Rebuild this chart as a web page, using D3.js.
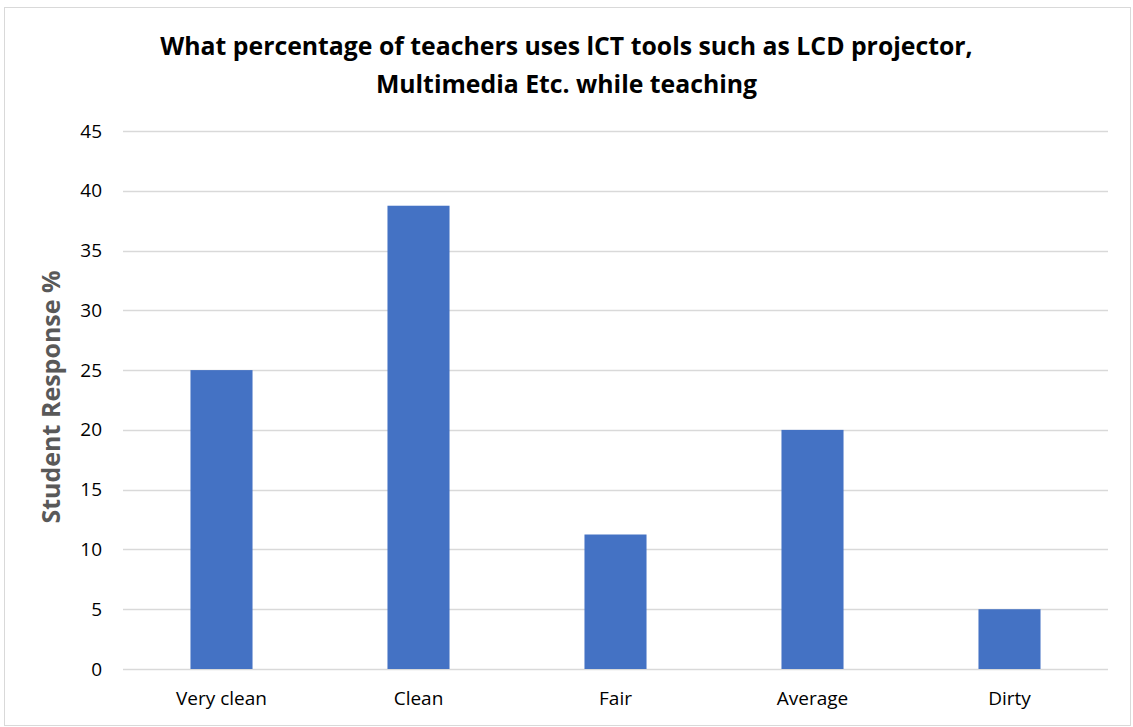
<!DOCTYPE html>
<html>
<head>
<meta charset="utf-8">
<script src="https://cdn.jsdelivr.net/npm/d3@7"></script>
<style>
  html, body { margin: 0; padding: 0; background: #fff; }
  svg { display: block; font-family: "Open Sans", Lato, sans-serif; }
</style>
</head>
<body>
<div id="chart"></div>
<script>
// Chart data
const categories = ["Very clean", "Clean", "Fair", "Average", "Dirty"];
const responses = [25, 38.75, 11.25, 20, 5];
const yTicks = [0, 5, 10, 15, 20, 25, 30, 35, 40, 45];
const titleLines = [
  "What percentage of teachers uses lCT tools such as LCD projector,",
  "Multimedia Etc. while teaching"
];
const yTitle = "Student Response %";

const width = 1133;
const height = 727;
const margin = { top: 131, right: 25, bottom: 58, left: 123 };
const innerWidth = width - margin.left - margin.right;
const innerHeight = height - margin.top - margin.bottom;
const font = "'Open Sans', Lato, sans-serif";

const svg = d3.select("#chart")
  .append("svg")
  .attr("width", width)
  .attr("height", height);

// Outer frame
svg.append("rect")
  .attr("x", 4.5)
  .attr("y", 7.5)
  .attr("width", width - 7)
  .attr("height", height - 9)
  .attr("fill", "#fff")
  .attr("stroke", "#d9d9d9")
  .attr("stroke-width", 1);

const x = d3.scaleBand()
  .domain(categories)
  .range([0, innerWidth])
  .paddingInner(0.685)
  .paddingOuter(0.3425);

const y = d3.scaleLinear()
  .domain([0, 45])
  .range([innerHeight, 0]);

const g = svg.append("g").attr("transform", `translate(${margin.left}, ${margin.top})`);

// Gridlines
g.append("g")
  .selectAll("line")
  .data(yTicks)
  .join("line")
  .attr("x1", 0)
  .attr("x2", innerWidth)
  .attr("y1", (d) => Math.round(y(d)) + 0.5)
  .attr("y2", (d) => Math.round(y(d)) + 0.5)
  .attr("stroke", "#d9d9d9")
  .attr("stroke-width", 1.5);

// Bars
g.append("g")
  .selectAll("rect")
  .data(categories)
  .join("rect")
  .attr("x", (d) => x(d))
  .attr("y", (d, i) => y(responses[i]))
  .attr("width", x.bandwidth())
  .attr("height", (d, i) => innerHeight - y(responses[i]))
  .attr("fill", "#4472c4");

// Y axis labels
const yAxis = g.append("g")
  .call(d3.axisLeft(y).tickValues(yTicks).tickSize(0).tickPadding(21));
yAxis.select(".domain").remove();
yAxis.selectAll("text")
  .attr("font-size", 19)
  .attr("font-family", font)
  .attr("fill", "#000");

// X axis labels
const xAxis = g.append("g")
  .attr("transform", `translate(0, ${innerHeight})`)
  .call(d3.axisBottom(x).tickSize(0).tickPadding(0));
xAxis.select(".domain").remove();
xAxis.selectAll("text")
  .attr("y", 36)
  .attr("dy", null)
  .attr("font-size", 19)
  .attr("font-family", font)
  .attr("fill", "#000");

// Title
svg.append("g")
  .selectAll("text")
  .data(titleLines)
  .join("text")
  .attr("x", width / 2)
  .attr("y", (d, i) => 55 + i * 38)
  .attr("text-anchor", "middle")
  .attr("font-size", 24.8)
  .attr("font-weight", "bold")
  .attr("fill", "#000")
  .text((d) => d);

// Y axis title
svg.append("text")
  .attr("transform", `translate(60, 397) rotate(-90)`)
  .attr("text-anchor", "middle")
  .attr("font-size", 25)
  .attr("font-weight", "bold")
  .attr("fill", "#595959")
  .text(yTitle);
</script>
</body>
</html>
